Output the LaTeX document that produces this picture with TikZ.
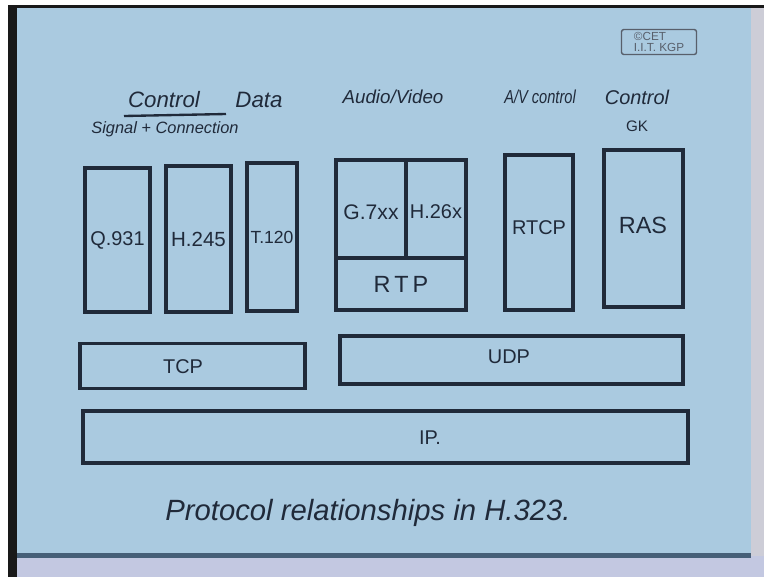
\documentclass[tikz,border=0pt]{standalone}
\usepackage{fontspec}
\setmainfont{Liberation Sans}
\definecolor{paper}{RGB}{170,202,224}
\definecolor{ink}{RGB}{32,42,58}
\definecolor{edgegray}{RGB}{205,205,215}
\definecolor{bottomstrip}{RGB}{195,200,225}
\definecolor{bottomline}{RGB}{70,95,120}
\tikzset{
  box/.style={draw=ink, line width=2.6pt, inner sep=0pt, text=ink},
  lbl/.style={text=ink, inner sep=1pt},
  head/.style={text=ink, inner sep=1pt, font=\fontsize{19}{19}\selectfont\itshape},
  subhead/.style={text=ink, inner sep=1pt, font=\fontsize{14}{14}\selectfont\itshape},
  divider/.style={draw=ink, line width=2.6pt},
}
\begin{document}
\begin{tikzpicture}[x=0.03cm,y=-0.03cm]
\useasboundingbox (0,0) rectangle (764,577);
% surroundings
\fill[white] (0,0) rectangle (764,577);
\fill[black!90] (8,5) rectangle (764,8);
\fill[black!90] (8,5) rectangle (17,577);
\fill[edgegray] (750,8) rectangle (764,577);
\fill[bottomstrip] (17,556) rectangle (764,577);
\fill[paper] (17,8) rectangle (751,553);
\fill[bottomline] (17,553) rectangle (751,558);
% copyright stamp
\node[draw=ink!75, line width=1.2pt, rounded corners=2pt, text=ink!75, align=left,
      font=\fontsize{10}{9}\selectfont, inner sep=2pt, minimum width=75*0.03cm, minimum height=25*0.03cm] (stamp) at (659,42) {\copyright CET\\I.I.T. KGP};
% headings
\node[head] (hcontrol) at (164,100) {Control};
\coordinate (ulA) at (124,116);
\coordinate (ulB) at (226,114);
\draw[ink, line width=2pt] (ulA) -- (ulB);
\node[subhead] (hsignal) at (165,129) {Signal + Connection};
\node[head] (hdata) at (259,100) {Data};
\node[head, font=\fontsize{16}{16}\selectfont\itshape] (hav) at (393,97) {Audio/Video};
\node[head, font=\fontsize{16}{16}\selectfont\itshape, xscale=0.78, transform shape] (havc) at (540,97) {A/V control};
\node[head, font=\fontsize{17}{17}\selectfont\itshape] (hgk1) at (637,97) {Control};
\node[subhead, font=\fontsize{13}{13}\selectfont] (hgk2) at (637,126) {GK};
% upper protocol boxes
\node[box, minimum width=65*0.03cm, minimum height=144*0.03cm, font=\fontsize{17}{17}\selectfont] (q931) at (117.5,240) {Q.931};
\node[box, minimum width=65*0.03cm, minimum height=146*0.03cm, font=\fontsize{17.5}{17.5}\selectfont] (h245) at (198.5,239) {H.245};
\node[box, minimum width=50*0.03cm, minimum height=148*0.03cm, font=\fontsize{15}{15}\selectfont] (t120) at (272,237) {T.120};
\node[box, minimum width=130*0.03cm, minimum height=150*0.03cm] (avbox) at (401,235) {};
\coordinate (vtop) at (406,160);
\coordinate (vbot) at (406,258);
\coordinate (hl) at (336,258);
\coordinate (hr) at (466,258);
\draw[divider] (vtop) -- (vbot);
\draw[divider] (hl) -- (hr);
\node[lbl, font=\fontsize{18}{18}\selectfont] (g7) at (371,212) {G.7xx};
\node[lbl, font=\fontsize{17}{17}\selectfont] (h26) at (436,212) {H.26x};
\node[lbl, font=\fontsize{20}{20}\selectfont] (rtp) at (401,284) {R\,T\,P};
\node[box, minimum width=68*0.03cm, minimum height=155*0.03cm] (rtcpbox) at (539,232.5) {};
\node[lbl, font=\fontsize{17}{17}\selectfont] (rtcp) at (539,228) {RTCP};
\node[box, minimum width=79*0.03cm, minimum height=157*0.03cm] (rasbox) at (643.5,228.5) {};
\node[lbl, font=\fontsize{20}{20}\selectfont] (ras) at (643,225) {RAS};
% transport layer
\node[box, minimum width=225*0.03cm, minimum height=45*0.03cm] (tcpbox) at (192.5,366) {};
\node[lbl, font=\fontsize{17}{17}\selectfont] (tcp) at (183,367) {TCP};
\node[box, minimum width=343*0.03cm, minimum height=48*0.03cm] (udpbox) at (511.5,360) {};
\node[lbl, font=\fontsize{17}{17}\selectfont] (udp) at (509,357) {UDP};
% network layer
\node[box, minimum width=605*0.03cm, minimum height=52*0.03cm] (ipbox) at (385.5,437) {};
\node[lbl, font=\fontsize{17}{17}\selectfont] (ip) at (430,438) {IP.};
% caption
\node[head, font=\fontsize{25}{25}\selectfont\itshape] (caption) at (368,513) {Protocol relationships in H.323.};
\end{tikzpicture}
\end{document}
